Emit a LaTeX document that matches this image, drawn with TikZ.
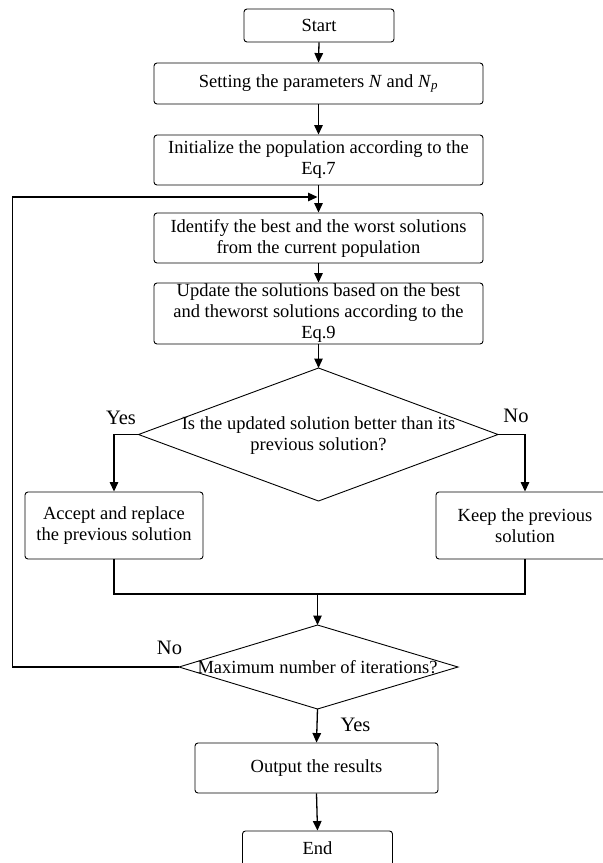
\documentclass[tikz,border=0pt]{standalone}
\usepackage{fontspec}
\setmainfont{Liberation Serif}
\usetikzlibrary{arrows.meta}
\newcommand{\fs}{\fontsize{18.5}{21}\selectfont}
\newcommand{\fl}{\fontsize{20.5}{23}\selectfont}
\tikzset{
  box/.style={draw, rounded corners=3pt, align=center, inner sep=0pt, font=\fs, line width=0.9pt},
  txt/.style={align=center, inner sep=0pt, font=\fs},
  lab/.style={inner sep=0pt, font=\fl},
  arr/.style={-{Triangle[length=9.5pt,width=8.5pt]}, line width=1.3pt},
  ln/.style={line width=1.3pt},
  dia/.style={line width=0.9pt}
}
\begin{document}
\begin{tikzpicture}[x=1pt,y=-1pt]
\useasboundingbox (0,0) rectangle (603,863);
\begin{scope}
\clip (0,0) rectangle (603,863);
\node[box, minimum width=150pt, minimum height=33pt] (start) at (319,25.5) {Start};
\node[box, minimum width=329pt, minimum height=41pt] (set) at (318.5,83.5) {Setting the parameters \textit{N} and \textit{N}\textsubscript{\textit{p}}};
\node[box, minimum width=329pt, minimum height=50pt] (init) at (318.5,160) {Initialize the population according to the\\Eq.7};
\node[box, minimum width=329pt, minimum height=50pt] (ident) at (318.5,238) {Identify the best and the worst solutions\\from the current population};
\node[box, minimum width=329pt, minimum height=61pt] (upd) at (318.5,313.5) {Update the solutions based on the best\\and theworst solutions according to the\\Eq.9};
% decision 1
\coordinate (d1t) at (318.5,368);
\coordinate (d1r) at (498,434.5);
\coordinate (d1b) at (318.5,501);
\coordinate (d1l) at (138.5,434.5);
\draw[dia] (d1t) -- (d1r) -- (d1b) -- (d1l) -- cycle;
\node[txt] (d1) at (318.5,436) {Is the updated solution better than its\\previous solution?};
\node[box, minimum width=178pt, minimum height=67pt] (acc) at (114,525.5) {Accept and replace\\the previous solution};
\node[box, minimum width=178pt, minimum height=67pt] (keep) at (525,525.5) {Keep the previous\\solution};
% decision 2
\coordinate (d2t) at (317.5,625);
\coordinate (d2r) at (458,667);
\coordinate (d2b) at (317.5,709);
\coordinate (d2l) at (179,667);
\draw[dia] (d2t) -- (d2r) -- (d2b) -- (d2l) -- cycle;
\node[txt] (d2) at (317.5,667) {Maximum number of iterations?};
\node[box, minimum width=243pt, minimum height=50pt] (out) at (316.5,768) {Output the results};
\node[box, minimum width=150pt, minimum height=35pt] (end) at (317.5,848.5) {End};
% labels
\node[lab] (yes1) at (121,418) {Yes};
\node[lab] (no1) at (516,416) {No};
\node[lab] (no2) at (169.5,648) {No};
\node[lab] (yes2) at (355.5,725) {Yes};
% connectors
\draw[arr] (start.south) -- (set.north);
\draw[arr] (set.south) -- (init.north);
\draw[arr] (init.south) -- (ident.north);
\draw[arr] (ident.south) -- (upd.north);
\draw[arr] (upd.south) -- (d1t);
\draw[arr] (d1l) -| (acc.north);
\draw[arr] (d1r) -| (keep.north);
\coordinate (mL) at (114,594);
\coordinate (mR) at (525,594);
\coordinate (mC) at (317.5,594);
\draw[ln] (acc.south) -- (mL) -- (mR) -- (keep.south);
\draw[arr] (mC) -- (d2t);
\coordinate (fbL) at (12.7,667);
\coordinate (fbE) at (317.5,197);
\draw[arr] (d2l) -- (fbL) |- (fbE);
\draw[arr] (d2b) -- (out.north);
\draw[arr] (out.south) -- (end.north);
\end{scope}
\end{tikzpicture}
\end{document}
